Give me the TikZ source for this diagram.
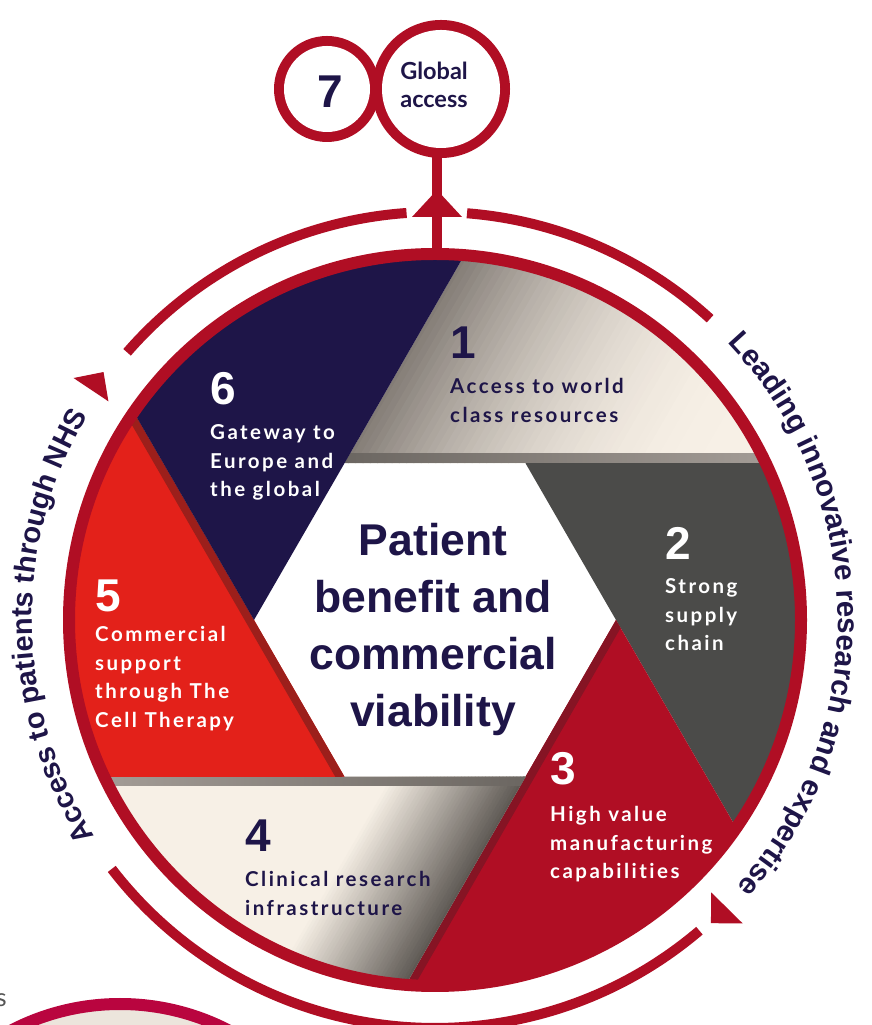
\documentclass[tikz,border=0pt]{standalone}
\usepackage{fontspec}
\setmainfont{Lato}
\newfontfamily\bladefont{Lato}[LetterSpace=12.0, Ligatures=NoCommon]
\newfontfamily\heavyfont{Liberation Sans}
\usepackage{xcolor}
\usepackage{tikz}
\usetikzlibrary{calc,decorations.text}
\definecolor{navyc}{HTML}{1E1548}
\definecolor{ringred}{HTML}{B00E24}
\definecolor{firered}{HTML}{E3211A}
\definecolor{slate}{HTML}{4B4B49}
\definecolor{creamc}{HTML}{F7F0E6}
\definecolor{taupec}{HTML}{837C76}
\definecolor{taupedark}{HTML}{5E5954}
\definecolor{bevellight}{HTML}{A39C96}
\definecolor{beveldark}{HTML}{6B6661}
\definecolor{firestrip}{HTML}{9C1F1B}
\definecolor{ringstrip}{HTML}{861424}
\definecolor{rose}{HTML}{B9053F}
\definecolor{roseback}{HTML}{ECE5DC}
\definecolor{greytext}{HTML}{555555}
\tikzstyle{ring} = [draw=ringred, line width=12pt]
\tikzstyle{outerarc} = [draw=ringred, line width=10pt]
\tikzstyle{tip} = [fill=ringred]
\tikzstyle{stem} = [draw=ringred, line width=10pt]
\tikzstyle{num} = [anchor=base west, inner sep=0, font=\heavyfont\bfseries\fontsize{46}{46}\selectfont]
\tikzstyle{blurb} = [anchor=base west, inner sep=0, align=left, font=\bladefont\bfseries\fontsize{20.5}{28.5}\selectfont]
\tikzstyle{arctext} = [decorate, decoration={text along path, text align=center, text color=navyc}]

\begin{document}
\begin{tikzpicture}[x=1pt, y=1pt]
\useasboundingbox (0,0) rectangle (872,1025);
\clip (0,0) rectangle (872,1025);
\fill[white] (0,0) rectangle (872,1025);
\draw[draw=rose, fill=roseback, line width=12pt] (120,-215) circle (236);
\node[anchor=base east, inner sep=0, text=greytext, font=\fontsize{25}{25}\selectfont] (cut) at (7,18) {s};

\begin{scope}[shift={(435,405)}]
% blades, clockwise from the top
\begin{scope}
\clip (120:181) -- (85.4:366) arc[start angle=85.4, end angle=25.4, radius=366] -- (60:181) -- cycle;
\fill[creamc] (-100,140) rectangle (340,380);
\foreach \i in {0,...,49} {
  \pgfmathtruncatemacro\p{100*(1-(1-\i/49)^2)}
  \fill[creamc!\p!taupec, rotate=-30] ({-160+6.3*\i},40) rectangle ({-153+6.3*\i},400);
}
\shade[left color=beveldark, right color=bevellight] (-91,157) rectangle (331,166);
\end{scope}
\fill[slate] (60:181) -- (25.4:366) arc[start angle=25.4, end angle=-34.6, radius=366] -- (0:181) -- cycle;
\begin{scope}
\clip (0:181) -- (-34.6:366) arc[start angle=-34.6, end angle=-94.6, radius=366] -- (300:181) -- cycle;
\fill[ringred] (-40,-370) rectangle (310,5);
\draw[ringstrip, line width=16pt] ($(0:181)!-0.2!(265.4:366)$) -- ($(0:181)!1.1!(265.4:366)$);
\end{scope}
\begin{scope}
\clip (300:181) -- (265.4:366) arc[start angle=265.4, end angle=205.4, radius=366] -- (240:181) -- cycle;
\fill[creamc] (-340,-380) rectangle (100,-140);
\foreach \i in {0,...,39} {
  \pgfmathtruncatemacro\p{\i*100/39}
  \fill[taupedark!\p!creamc, rotate=-30] ({38+3*\i},-400) rectangle ({41.5+3*\i},-40);
}
\fill[taupedark, rotate=-30] (155,-400) rectangle (170,-40);
\shade[left color=bevellight, right color=beveldark] (-331,-166) rectangle (91,-157);
\end{scope}
\begin{scope}
\clip (240:181) -- (205.4:366) arc[start angle=205.4, end angle=145.4, radius=366] -- (180:181) -- cycle;
\fill[firered] (-370,-160) rectangle (-85,215);
\draw[firestrip, line width=16pt] ($(240:181)!-0.2!(145.4:366)$) -- ($(240:181)!1.1!(145.4:366)$);
\end{scope}
\fill[navyc] (180:181) -- (145.4:366) arc[start angle=145.4, end angle=85.4, radius=366] -- (120:181) -- cycle;

\draw[ring] (0,0) circle (366);

\draw[outerarc] (139:408) arc[start angle=139, end angle=94, radius=408];
\draw[outerarc] (85.5:408) arc[start angle=85.5, end angle=47.6, radius=408];
\draw[outerarc] (-49.6:408) arc[start angle=-49.6, end angle=-142.4, radius=408];
\fill[tip] (146.2:393) -- (146.2:435) -- (143.2:414) -- cycle;
\fill[tip] (-44.6:388) -- (-44.6:432) -- (-47.7:410) -- cycle;

\coordinate (stembot) at (2,366);
\coordinate (stemtop) at (2,466);
\draw[stem] (stembot) -- (stemtop);
\fill[tip] (-23,403) -- (27,403) -- (2,430) -- cycle;
\fill[ringred] (-108,531) circle (53);
\fill[ringred] (6,531) circle (69);
\fill[white] (-108,531) circle (43);
\fill[white] (6,531) circle (59);

\node[num, text=navyc, anchor=base] (num7) at (-105,512) {7};
\node[inner sep=0, text=navyc, align=center, anchor=base, font=\bfseries\fontsize{23.5}{28}\selectfont] (txt7) at (-1,512) {Global\\access};

\node[inner sep=0, align=center, text=navyc, font=\heavyfont\bfseries\fontsize{44.5}{57}\selectfont] (hub) at (-2,-9.5) {Patient\\benefit and\\commercial\\viability};

\node[num, text=navyc] (num1) at (15,261) {1};
\node[blurb, text=navyc] (txt1) at (15,197.5) {Access to world\\class resources};
\node[num, text=white] (num2) at (230,60) {2};
\node[blurb, text=white] (txt2) at (230,-31) {Strong\\supply\\chain};
\node[num, text=white] (num3) at (115,-165) {3};
\node[blurb, text=white] (txt3) at (115,-259) {High value\\manufacturing\\capabilities};
\node[num, text=navyc] (num4) at (-190,-232) {4};
\node[blurb, text=navyc] (txt4) at (-190,-295.5) {Clinical research\\infrastructure};
\node[num, text=white] (num5) at (-340,8) {5};
\node[blurb, text=white] (txt5) at (-340,-107.5) {Commercial\\support\\through The\\Cell Therapy};
\node[num, text=white] (num6) at (-225,215) {6};
\node[blurb, text=white] (txt6) at (-225,123) {Gateway to\\Europe and\\the global};

\path[arctext, decoration={text={|\heavyfont\bfseries\fontsize{29.5}{29.5}\selectfont|Leading innovative research and expertise}}] (47:403) arc[start angle=47, end angle=-45, radius=403];
\path[arctext, decoration={text={|\heavyfont\bfseries\fontsize{29}{29}\selectfont|Access to patients through NHS}}] (217:403) arc[start angle=217, end angle=145, radius=403];
\end{scope}
\end{tikzpicture}
\end{document}
